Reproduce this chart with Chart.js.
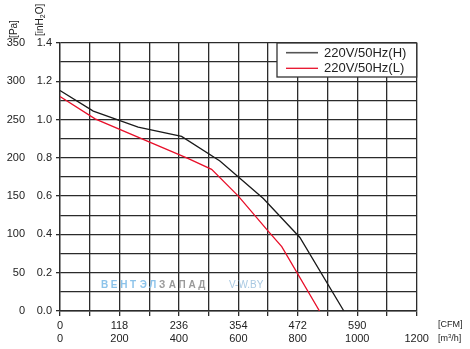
<!DOCTYPE html>
<html>
<head>
<meta charset="utf-8">
<script src="https://cdn.jsdelivr.net/npm/chart.js@4"></script>
<style>
  html, body { margin: 0; padding: 0; background: #fff; }
</style>
</head>
<body>
<canvas id="fanChart" width="470" height="349"></canvas>
<script>
// airflow [m3/h] and static pressure [Pa]
const flowHigh = [0, 112, 263, 409, 538, 684, 807, 955];
const pressHigh = [288, 261, 240, 228, 196, 147, 96, 0];
const flowLow = [0, 118, 432, 510, 600, 701, 746, 873];
const pressLow = [280, 251, 199, 185, 150, 104, 84, 0];

// tick labels
const paTicks = ['0', '50', '100', '150', '200', '250', '300', '350'];
const inTicks = ['0.0', '0.2', '0.4', '0.6', '0.8', '1.0', '1.2', '1.4'];
const cfmTicks = ['0', '118', '236', '354', '472', '590', ''];
const m3hTicks = ['0', '200', '400', '600', '800', '1000', '1200'];

const seriesNames = ['220V/50Hz(H)', '220V/50Hz(L)'];
const seriesColors = ['#1a1a1a', '#e8102a'];

const FONT = '"Liberation Sans", Arial, sans-serif';
const gridColor = '#2b2b2b';
const textColor = '#222';

const toPoints = (xs, ys) => xs.map((x, i) => ({ x: x, y: ys[i] }));

// draw a word letter by letter, spreading it over a given width
const spreadText = (ctx, text, x, y, width) => {
  const step = width / text.length;
  for (let i = 0; i < text.length; i++) {
    ctx.fillText(text[i], x + i * step, y);
  }
};

// extra drawing: axis titles, legend box, watermark
const decorPlugin = {
  id: 'decor',
  afterDraw(chart) {
    const ctx = chart.ctx;
    const area = chart.chartArea;
    ctx.save();

    // rotated axis titles
    ctx.fillStyle = textColor;
    ctx.font = '10px ' + FONT;
    ctx.textBaseline = 'middle';
    ctx.save();
    ctx.translate(14, 29);
    ctx.rotate(-Math.PI / 2);
    ctx.textAlign = 'center';
    ctx.fillText('[Pa]', 0, 0);
    ctx.restore();

    ctx.save();
    ctx.translate(40, 36);
    ctx.rotate(-Math.PI / 2);
    ctx.textAlign = 'left';
    ctx.fillText('[inH', 0, 0);
    let w = ctx.measureText('[inH').width;
    ctx.font = '7px ' + FONT;
    ctx.fillText('2', w, 3);
    w += ctx.measureText('2').width;
    ctx.font = '10px ' + FONT;
    ctx.fillText('O]', w, 0);
    ctx.restore();

    // unit labels at the right of the x axis
    ctx.font = '9px ' + FONT;
    ctx.textAlign = 'left';
    ctx.fillText('[CFM]', 438, 325);
    ctx.fillText('[m', 438, 339);
    let u = 438 + ctx.measureText('[m').width;
    ctx.font = '6px ' + FONT;
    ctx.fillText('3', u, 336);
    u += ctx.measureText('3').width;
    ctx.font = '9px ' + FONT;
    ctx.fillText('/h]', u, 339);

    // legend box
    const lx = 277, ly = area.top, lw = area.right - 277, lh = 34;
    ctx.fillStyle = '#fff';
    ctx.fillRect(lx, ly, lw, lh);
    ctx.strokeStyle = '#333';
    ctx.lineWidth = 1.3;
    ctx.strokeRect(lx, ly, lw, lh);
    ctx.font = '13px ' + FONT;
    seriesNames.forEach((name, i) => {
      const y = ly + 9.7 + i * 15.6;
      ctx.strokeStyle = i === 0 ? '#555' : seriesColors[1];
      ctx.lineWidth = i === 0 ? 1.6 : 1.3;
      ctx.beginPath();
      ctx.moveTo(286, y);
      ctx.lineTo(318, y);
      ctx.stroke();
      ctx.fillStyle = textColor;
      ctx.fillText(name, 324, y + 0.5);
    });

    // watermark
    ctx.font = 'bold 10px ' + FONT;
    ctx.textBaseline = 'middle';
    ctx.fillStyle = '#8cc3ea';
    spreadText(ctx, 'ВЕНТЭЛ', 101, 285, 58);
    ctx.fillStyle = '#9a9a9a';
    spreadText(ctx, 'ЗАПАД', 159, 285, 49);
    ctx.font = '10px ' + FONT;
    ctx.fillStyle = '#a9c9e2';
    ctx.fillText('V-W.BY', 229, 285);

    ctx.restore();
  }
};

const ctx = document.getElementById('fanChart').getContext('2d');
const fanChart = new Chart(ctx, {
  type: 'line',
  data: {
    datasets: [{
      label: seriesNames[0],
      data: toPoints(flowHigh, pressHigh),
      borderColor: seriesColors[0],
      borderWidth: 1.3,
      pointRadius: 0,
      yAxisID: 'yPa'
    }, {
      label: seriesNames[1],
      data: toPoints(flowLow, pressLow),
      borderColor: seriesColors[1],
      borderWidth: 1.3,
      pointRadius: 0,
      yAxisID: 'yPa'
    }]
  },
  options: {
    responsive: false,
    animation: false,
    layout: { padding: { left: 0, top: 43, right: 53.3, bottom: 0 } },
    plugins: {
      legend: { display: false },
      tooltip: { enabled: false }
    },
    scales: {
      x: {
        type: 'linear',
        position: 'bottom',
        min: 0,
        max: 1200,
        afterFit: (scale) => { scale.height = 38; },
        ticks: {
          stepSize: 100,
          autoSkip: false,
          maxRotation: 0,
          padding: 3.4,
          color: textColor,
          font: { family: FONT, size: 11 },
          callback: (value) => value % 200 === 0 ? [cfmTicks[value / 200], m3hTicks[value / 200]] : ''
        },
        grid: { color: gridColor, lineWidth: 1.3, tickLength: 5 },
        border: { color: gridColor, width: 1.6 }
      },
      yIn: {
        type: 'linear',
        position: 'left',
        weight: 0,
        min: 0,
        max: 1.4,
        afterFit: (scale) => { scale.width = 24; },
        ticks: {
          stepSize: 0.1,
          autoSkip: false,
          padding: 4,
          color: textColor,
          font: { family: FONT, size: 11 },
          callback: (value, index) => index % 2 === 0 ? inTicks[index / 2] : ''
        },
        grid: {
          color: gridColor,
          lineWidth: 1.3,
          tickLength: 4,
          tickColor: (c) => c.index % 2 === 0 ? gridColor : 'rgba(0,0,0,0)'
        },
        border: { color: gridColor, width: 1.3 }
      },
      yPa: {
        type: 'linear',
        position: 'left',
        weight: 10,
        min: 0,
        max: 350,
        afterFit: (scale) => { scale.width = 36; },
        ticks: {
          stepSize: 50,
          autoSkip: false,
          padding: 11,
          color: textColor,
          font: { family: FONT, size: 11 },
          callback: (value, index) => paTicks[index]
        },
        grid: { display: false, drawTicks: false },
        border: { display: false }
      }
    }
  },
  plugins: [decorPlugin]
});
</script>
</body>
</html>
